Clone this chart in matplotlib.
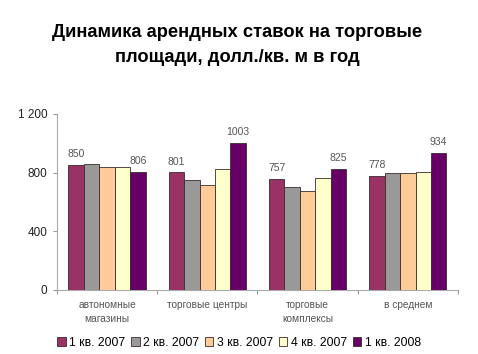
import matplotlib
matplotlib.use("Agg")
import matplotlib.pyplot as plt
import numpy as np

plt.rcParams['font.family'] = ['Liberation Sans', 'DejaVu Sans']

categories = ["автономные\nмагазины", "торговые центры", "торговые\nкомплексы", "в среднем"]
series_names = ["1 кв. 2007", "2 кв. 2007", "3 кв. 2007", "4 кв. 2007", "1 кв. 2008"]
q1_2007 = [850, 801, 757, 778]
q2_2007 = [857, 753, 700, 796]
q3_2007 = [840, 717, 677, 798]
q4_2007 = [840, 824, 764, 803]
q1_2008 = [806, 1003, 825, 934]
yticks = [0, 400, 800, 1200]
ytick_labels = ["0", "400", "800", "1 200"]

series = [q1_2007, q2_2007, q3_2007, q4_2007, q1_2008]
colors = ["#993366", "#999999", "#FFCC99", "#FFFFCC", "#660066"]

fig = plt.figure(figsize=(4.78, 3.54), dpi=100)
ax = fig.add_axes([0.119, 0.181, 0.839, 0.497])

x = np.arange(len(categories))
n = len(series)
bw = 0.77 / n
for i, (vals, c) in enumerate(zip(series, colors)):
    pos = x - 0.385 + bw * (i + 0.5)
    ax.bar(pos, vals, width=bw, color=c, edgecolor="#3a2a2a", linewidth=0.6,
           label=series_names[i], zorder=3)
    if i in (0, n - 1):
        for p, v in zip(pos, vals):
            ax.text(p, v + 40, str(v), ha="center", va="bottom", fontsize=7.5,
                    color="#555555")

ax.set_xlim(-0.5, len(categories) - 0.5)
ax.set_ylim(0, 1200)
ax.set_yticks(yticks)
ax.set_yticklabels(ytick_labels, fontsize=8.5, color="#222222")
ax.set_xticks(np.arange(len(categories) + 1) - 0.5)
ax.set_xticklabels([])
ax.set_xticks(x, minor=True)
ax.set_xticklabels(categories, minor=True, fontsize=7.3, color="#555555",
                   linespacing=1.5)
ax.tick_params(axis="x", which="minor", length=0, pad=7)
ax.tick_params(axis="x", which="major", length=3, color="#999999")
ax.tick_params(axis="y", length=3, color="#999999", pad=4)
for s in ["top", "right"]:
    ax.spines[s].set_visible(False)
for s in ["left", "bottom"]:
    ax.spines[s].set_color("#aaaaaa")
    ax.spines[s].set_linewidth(0.8)

fig.text(0.496, 0.873, "Динамика арендных ставок на торговые\nплощади, долл./кв. м в год",
         ha="center", va="center", fontsize=13.2, fontweight="bold",
         linespacing=1.55)

fig.legend(loc="center", bbox_to_anchor=(0.5, 0.031), ncol=5, frameon=False,
           fontsize=8.8, handlelength=0.7, handleheight=0.7, handletextpad=0.3,
           columnspacing=0.45)

fig.savefig("out.png", dpi=100, facecolor="white")
